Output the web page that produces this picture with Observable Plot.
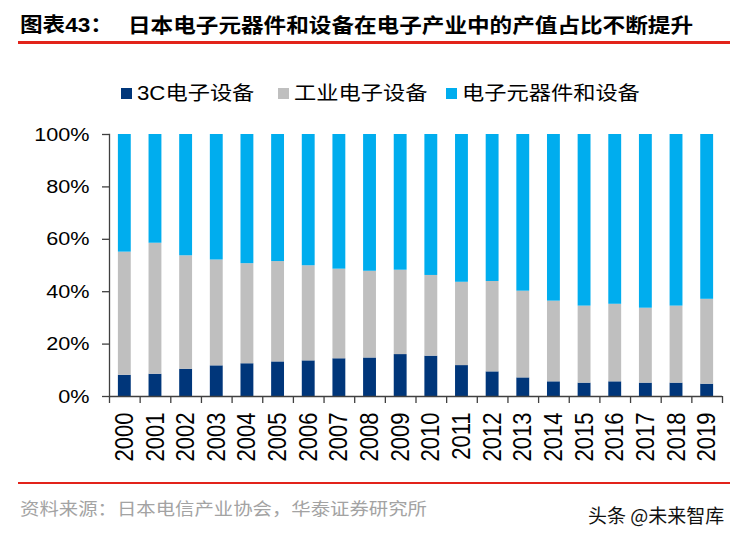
<!DOCTYPE html>
<html><head><meta charset="utf-8">
<script src="https://cdn.jsdelivr.net/npm/d3@7"></script>
<script src="https://cdn.jsdelivr.net/npm/@observablehq/plot@0.6"></script>
<style>
body{margin:0;background:#fff;}
#wrap{position:relative;width:740px;height:539px;overflow:hidden;font-family:"Liberation Sans","Noto Sans CJK SC",sans-serif;}
.abs{position:absolute;white-space:nowrap;transform-origin:0 50%;}
.rule{position:absolute;background:#e2231a;}
#chart{position:absolute;left:0;top:120px;}
</style></head><body>
<div id="wrap">
  <div class="abs" style="left:20px;top:10px;font-size:20px;font-weight:700;line-height:30px;transform:scaleX(1.13);color:#000">图表43：</div>
  <div class="abs" style="left:128px;top:10px;font-size:20px;font-weight:700;line-height:30px;transform:scaleX(1.13);color:#000;font-family:'Noto Sans CJK SC',sans-serif">日本电子元器件和设备在电子产业中的产值占比不断提升</div>
  <div class="rule" style="left:18px;top:41px;width:712px;height:2.5px"></div>
  <div id="legend"></div>
  <div id="chart"></div>
  <div class="rule" style="left:18px;top:482px;width:712px;height:2px"></div>
  <div class="abs" style="left:20px;top:495px;font-size:17px;line-height:26px;transform:scaleX(1.14);color:#a3a3a3;font-family:'Noto Sans CJK SC',sans-serif">资料来源：日本电信产业协会，华泰证券研究所</div>
  <div class="abs" style="left:588px;top:502px;font-size:19px;line-height:26px;color:#111;font-family:'Noto Sans CJK SC',sans-serif">头条 @未来智库</div>
</div>
<script>
const years = ["2000","2001","2002","2003","2004","2005","2006","2007","2008","2009","2010","2011","2012","2013","2014","2015","2016","2017","2018","2019"];
const seriesNames = ["3C电子设备","工业电子设备","电子元器件和设备"];
const colors = ["#00367a","#bfbfbf","#00adee"];
const c3 =        [8.1, 8.5, 10.4, 11.7, 12.5, 13.2, 13.6, 14.4, 14.7, 16.0, 15.4, 11.8, 9.4, 7.1, 5.6, 5.1, 5.6, 5.1, 5.1, 4.7];
const industrial =[47.0, 50.0, 43.3, 40.4, 38.2, 38.3, 36.3, 34.2, 33.1, 32.2, 30.8, 31.8, 34.5, 33.1, 30.8, 29.4, 29.6, 28.6, 29.4, 32.4];
const components =[44.9, 41.5, 46.3, 47.9, 49.3, 48.5, 50.1, 51.4, 52.2, 51.8, 53.8, 56.4, 56.1, 59.8, 63.6, 65.5, 64.8, 66.3, 65.5, 62.9];
const yTicks = [0, 20, 40, 60, 80, 100];

const seriesValues = [c3, industrial, components];
const data = [];
seriesNames.forEach((s, k) => years.forEach((yr, i) => data.push({year: yr, series: s, value: seriesValues[k][i]})));

// legend
const legend = document.getElementById("legend");
const legendPos = [{sq:121, tx:137}, {sq:278, tx:294}, {sq:446, tx:462}];
seriesNames.forEach((s, k) => {
  const sq = document.createElement("div");
  sq.style.cssText = `position:absolute;left:${legendPos[k].sq}px;top:88px;width:11px;height:11px;background:${colors[k]}`;
  legend.appendChild(sq);
  const t = document.createElement("div");
  t.className = "abs";
  t.style.cssText += `left:${legendPos[k].tx}px;top:79px;font-size:19.5px;line-height:28px;transform:scaleX(1.14);color:#000;`;
  t.textContent = s;
  legend.appendChild(t);
});

const step = (740 - 109 - 18) / years.length;
const axisColor = "#404040";
const chart = Plot.plot({
  width: 740, height: 350,
  marginTop: 14, marginBottom: 74, marginLeft: 109, marginRight: 18,
  style: {fontFamily: '"Liberation Sans", Arial, sans-serif', background: "transparent", overflow: "visible", color: "#000"},
  x: {domain: years, paddingInner: 0.58, paddingOuter: 0.29, round: false, label: null},
  y: {domain: [0, 100], label: null},
  color: {domain: seriesNames, range: colors},
  marks: [
    Plot.barY(data, Plot.stackY({x: "year", y: "value", fill: "series"})),
    Plot.frame({anchor: "left", stroke: axisColor, strokeWidth: 1.3}),
    Plot.ruleY([0], {stroke: axisColor, strokeWidth: 1.3}),
    Plot.axisY({ticks: yTicks, tickSize: 7, tickPadding: 13, tickFormat: d => d + "%", fontSize: 19, stroke: axisColor, fill: "#000", strokeWidth: 1.3, label: null}),
    Plot.axisX({ticks: years, tickSize: 7, text: null, dx: -step / 2, stroke: axisColor, strokeWidth: 1.3, label: null}),
    Plot.axisX({ticks: [years[years.length - 1]], tickSize: 7, text: null, dx: step / 2, stroke: axisColor, strokeWidth: 1.3, label: null}),
    Plot.axisX({ticks: years, tickSize: 0, tickPadding: 16, tickRotate: -90, fontSize: 22, fill: "#000", label: null})
  ]
});
chart.querySelectorAll('g[aria-label="y-axis tick label"] text, g[aria-label="x-axis tick label"] text').forEach(t => {
  const tr = t.getAttribute("transform") || "";
  if (tr.includes("rotate(")) t.setAttribute("transform", tr.replace("rotate(", "scale(1.14,1) rotate("));
  else if (tr) t.setAttribute("transform", tr + " scale(1.14,1)");
});
document.getElementById("chart").appendChild(chart);
</script>
</body></html>
